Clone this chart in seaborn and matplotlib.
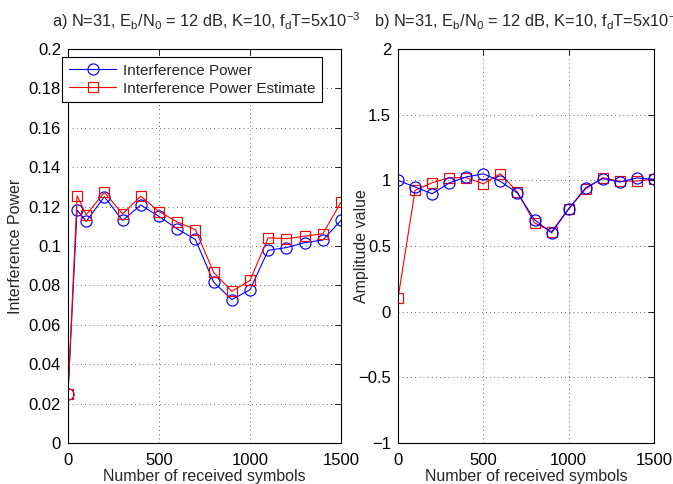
import matplotlib
matplotlib.use("Agg")
import matplotlib.pyplot as plt
import seaborn as sns
import numpy as np
import pandas as pd

# ---- data ----
x_a = [0, 50, 100, 200, 300, 400, 500, 600, 700, 800, 900, 1000, 1100, 1200, 1300, 1400, 1500]
power_a = [0.025, 0.1183, 0.1125, 0.125, 0.113, 0.1208, 0.115, 0.1087, 0.1033, 0.0817,
           0.0728, 0.0778, 0.0978, 0.0992, 0.1017, 0.103, 0.113]
estimate_a = [0.025, 0.1255, 0.1158, 0.1272, 0.1163, 0.1253, 0.1175, 0.1122, 0.1083, 0.0867,
              0.077, 0.0825, 0.1042, 0.1037, 0.105, 0.1062, 0.1222]

x_b = [0, 100, 200, 300, 400, 500, 600, 700, 800, 900, 1000, 1100, 1200, 1300, 1400, 1500]
amp_true_b = [1.0, 0.949, 0.898, 0.98, 1.026, 1.05, 0.992, 0.903, 0.70, 0.60,
              0.783, 0.944, 1.013, 0.987, 1.018, 1.008]
amp_est_b = [0.102, 0.923, 0.982, 1.02, 1.02, 0.974, 1.05, 0.911, 0.676, 0.61,
             0.783, 0.936, 1.02, 0.992, 0.995, 1.008]

title_a = r"a) N=31, E$_\mathregular{b}$/N$_\mathregular{0}$ = 12 dB, K=10, f$_\mathregular{d}$T=5x10$^\mathregular{-3}$"
title_b = r"b) N=31, E$_\mathregular{b}$/N$_\mathregular{0}$ = 12 dB, K=10, f$_\mathregular{d}$T=5x10$^\mathregular{-3}$"
xlabel = "Number of received symbols"
ylabel_a = "Interference Power"
ylabel_b = "Amplitude value"
legend_labels = ["Interference Power", "Interference Power Estimate"]
yticks_a = [0, 0.02, 0.04, 0.06, 0.08, 0.1, 0.12, 0.14, 0.16, 0.18, 0.2]
yticklabels_a = ["0", "0.02", "0.04", "0.06", "0.08", "0.1", "0.12", "0.14", "0.16", "0.18", "0.2"]
yticks_b = [-1, -0.5, 0, 0.5, 1, 1.5, 2]
yticklabels_b = ["\u22121", "\u22120.5", "0", "0.5", "1", "1.5", "2"]
xticks = [0, 500, 1000, 1500]

sns.set_theme(style="white")
plt.rcParams['font.family'] = ['Liberation Sans', 'DejaVu Sans']
plt.rcParams['mathtext.fontset'] = 'custom'
plt.rcParams['mathtext.rm'] = 'Liberation Sans'
plt.rcParams['mathtext.it'] = 'Liberation Sans'
plt.rcParams['font.size'] = 11

W, H = 673, 484
fig = plt.figure(figsize=(W / 100, H / 100), dpi=100)
ax1 = fig.add_axes([68 / W, 1 - 443 / H, 273 / W, 394 / H])
ax2 = fig.add_axes([398 / W, 1 - 443 / H, 256 / W, 394 / H])

df_a = pd.DataFrame({"x": x_a, "p": power_a, "e": estimate_a})
df_b = pd.DataFrame({"x": x_b, "t": amp_true_b, "e": amp_est_b})

blue = (0, 0, 1)
red = (1, 0, 0)
mk_c = dict(markerfacecolor='none', markersize=8, markeredgewidth=0.85, linewidth=0.8)
mk_s = dict(markerfacecolor='none', markersize=7, markeredgewidth=0.85, linewidth=0.8)

sns.lineplot(data=df_a, x="x", y="p", ax=ax1, color=blue, marker='o',
             markeredgecolor=blue, label=legend_labels[0], **mk_c)
sns.lineplot(data=df_a, x="x", y="e", ax=ax1, color=red, marker='s',
             markeredgecolor=red, label=legend_labels[1], **mk_s)

sns.lineplot(data=df_b, x="x", y="e", ax=ax2, color=red, marker='s',
             markeredgecolor=red, **mk_s)
sns.lineplot(data=df_b, x="x", y="t", ax=ax2, color=blue, marker='o',
             markeredgecolor=blue, **mk_c)

for ax in (ax1, ax2):
    ax.set_xlim(0, 1500)
    ax.set_xticks(xticks)
    ax.set_xlabel(xlabel, fontsize=11.5, labelpad=1)
    ax.grid(True, linestyle=(0, (1, 4)), color='black', linewidth=0.6, alpha=0.8)
    ax.tick_params(direction='in', top=True, right=True, length=4, width=0.6,
                   labelsize=12, colors='black')
    ax.tick_params(axis='x', pad=7)
    ax.tick_params(axis='y', pad=5)
    for s in ax.spines.values():
        s.set_color('black')
        s.set_linewidth(0.8)

ax1.set_ylim(0, 0.2)
ax1.set_yticks(yticks_a)
ax1.set_yticklabels(yticklabels_a)
ax1.set_ylabel(ylabel_a, fontsize=11.5)
ax1.yaxis.set_label_coords(-0.165, 0.5)

ax2.set_ylim(-1, 2)
ax2.set_yticks(yticks_b)
ax2.set_yticklabels(yticklabels_b)
ax2.set_ylabel(ylabel_b, fontsize=11.5)
ax2.yaxis.set_label_coords(-0.112, 0.5)
if ax2.get_legend() is not None:
    ax2.get_legend().remove()

leg = ax1.legend(loc='upper left', bbox_to_anchor=(-0.022, 0.98), fontsize=11, frameon=True,
                 fancybox=False, edgecolor='black', borderpad=0.45, handlelength=3.1,
                 handletextpad=0.45, labelspacing=0.25, borderaxespad=0.0)
leg.get_frame().set_linewidth(0.8)
leg.get_frame().set_alpha(1)

fig.text(52 / W, 1 - 27 / H, title_a, fontsize=11.8, ha='left', va='baseline')
fig.text(374 / W, 1 - 27 / H, title_b, fontsize=11.8, ha='left', va='baseline')

fig.savefig("out.png", dpi=100)
